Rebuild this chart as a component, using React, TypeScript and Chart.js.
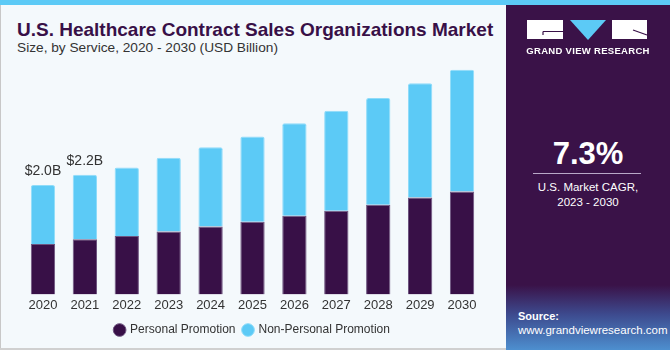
import React, { useEffect, useRef } from "react";
import { Chart, registerables } from "chart.js";

Chart.register(...registerables);

const years = ["2020", "2021", "2022", "2023", "2024", "2025", "2026", "2027", "2028", "2029", "2030"];
const personalPromotion = [0.92, 1.01, 1.07, 1.15, 1.24, 1.33, 1.44, 1.53, 1.64, 1.77, 1.88];
const nonPersonalPromotion = [1.08, 1.18, 1.25, 1.35, 1.45, 1.56, 1.69, 1.83, 1.95, 2.09, 2.23];
const totalLabels = ["$2.0B", "$2.2B", "", "", "", "", "", "", "", "", ""];

const DARK = "#381047";
const BLUE = "#5ccaf6";
const FONT = "'Liberation Sans', Arial, sans-serif";

const totalLabelPlugin = {
  id: "totalLabels",
  afterDatasetsDraw(chart: any) {
    const ctx = chart.ctx;
    const meta = chart.getDatasetMeta(1);
    ctx.save();
    ctx.font = `14px ${FONT}`;
    ctx.fillStyle = "#333333";
    ctx.textAlign = "center";
    ctx.textBaseline = "middle";
    meta.data.forEach((el: any, i: number) => {
      const t = totalLabels[i];
      if (t) ctx.fillText(t, el.x, el.y - 14);
    });
    ctx.restore();
  },
};

function ChartCanvas() {
  const ref = useRef<HTMLCanvasElement | null>(null);
  useEffect(() => {
    if (!ref.current) return;
    const chart = new Chart(ref.current, {
      type: "bar",
      data: {
        labels: years,
        datasets: [
          {
            label: "Personal Promotion",
            data: personalPromotion,
            backgroundColor: DARK,
            borderColor: "#6e5580",
            borderWidth: 1,
            barPercentage: 0.58,
            categoryPercentage: 1,
          },
          {
            label: "Non-Personal Promotion",
            data: nonPersonalPromotion,
            backgroundColor: BLUE,
            borderColor: "#8fdcf9",
            borderWidth: 1,
            borderRadius: { topLeft: 2, topRight: 2, bottomLeft: 0, bottomRight: 0 },
            borderSkipped: "bottom",
            barPercentage: 0.58,
            categoryPercentage: 1,
          },
        ],
      },
      options: {
        animation: false,
        responsive: false,
        maintainAspectRatio: false,
        layout: { padding: { left: 22, right: 22, top: 0, bottom: 4 } },
        scales: {
          x: {
            stacked: true,
            grid: { display: false, drawTicks: false },
            border: { display: false },
            ticks: { color: "#333333", font: { family: FONT, size: 13 }, padding: 3 },
          },
          y: {
            stacked: true,
            display: false,
            min: 0,
            max: 4.36,
          },
        },
        plugins: {
          legend: {
            position: "bottom",
            labels: {
              usePointStyle: true,
              pointStyle: "circle",
              boxWidth: 9,
              boxHeight: 9,
              color: "#333333",
              font: { family: FONT, size: 12 },
              padding: 8,
            },
          },
          tooltip: { enabled: false },
        },
      },
      plugins: [totalLabelPlugin],
    });
    return () => chart.destroy();
  }, []);
  return <canvas ref={ref} width={505} height={294} style={{ position: "absolute", left: 0, top: 56, width: 505, height: 294 }} />;
}

function Logo() {
  return (
    <svg width={170} height={60} style={{ position: "absolute", left: 500, top: 0 }}>
      <rect x={27} y={20} width={36} height={19} fill="#ffffff" />
      <path d="M43 31.5 L63 31.5 M43 31.5 L43 35" stroke={DARK} strokeWidth={1.2} fill="none" />
      <polygon points="70,20 106,20 88,40" fill={BLUE} />
      <rect x={112} y={20} width={35} height={19} fill="#ffffff" />
      <path d="M133 30 L147 35" stroke={DARK} strokeWidth={1.2} fill="none" />
    </svg>
  );
}

function Text(props: { x?: number; y: number; w?: number; h: number; style?: any; children: any }) {
  const { x = 0, y, w, h, style, children } = props;
  return (
    <div
      style={{
        position: "absolute",
        left: x,
        top: y - h / 2,
        width: w,
        height: h,
        lineHeight: `${h}px`,
        whiteSpace: "nowrap",
        ...style,
      }}
    >
      {children}
    </div>
  );
}

export default function App() {
  useEffect(() => {
    document.body.style.margin = "0";
  }, []);
  return (
    <div style={{ position: "absolute", left: 0, top: 0, width: 670, height: 350, overflow: "hidden", background: "#f4f9fc", fontFamily: FONT }}>
      <div style={{ position: "absolute", left: 0, top: 0, width: 670, height: 5, background: "#5ccaf6" }} />
      <div style={{ position: "absolute", left: 0, top: 5, width: 1, height: 345, background: "#c8c8c8" }} />
      <div style={{ position: "absolute", left: 0, top: 348, width: 506, height: 2, background: "#d0d0d0" }} />
      <Text x={17} y={30} h={22} style={{ color: DARK, fontSize: 19, fontWeight: "bold" }}>
        U.S. Healthcare Contract Sales Organizations Market
      </Text>
      <Text x={17} y={48} h={18} style={{ color: "#333333", fontSize: 13.7 }}>
        Size, by Service, 2020 - 2030 (USD Billion)
      </Text>
      <ChartCanvas />
      <div style={{ position: "absolute", left: 506, top: 5, width: 164, height: 345, background: "#3a1248" }} />
      <div
        style={{
          position: "absolute",
          left: 506,
          top: 285,
          width: 164,
          height: 65,
          background: "linear-gradient(to bottom, #3a1248 0%, #3d4a8e 45%, #4d8fcf 100%)",
        }}
      />
      <Logo />
      <Text x={506} w={164} y={51} h={12} style={{ color: "#ffffff", fontSize: 9.5, fontWeight: "bold", textAlign: "center", letterSpacing: 0.3 }}>
        GRAND VIEW RESEARCH
      </Text>
      <Text x={506} w={164} y={154} h={36} style={{ color: "#ffffff", fontSize: 31, fontWeight: "bold", textAlign: "center" }}>
        7.3%
      </Text>
      <div style={{ position: "absolute", left: 533, top: 173, width: 108, height: 1, background: "#b9a8c8" }} />
      <Text x={506} w={164} y={187} h={16} style={{ color: "#ffffff", fontSize: 11.5, textAlign: "center" }}>
        U.S. Market CAGR,
      </Text>
      <Text x={506} w={164} y={202} h={16} style={{ color: "#ffffff", fontSize: 11.5, textAlign: "center" }}>
        2023 - 2030
      </Text>
      <Text x={518} y={316} h={16} style={{ color: "#ffffff", fontSize: 11, fontWeight: "bold" }}>
        Source:
      </Text>
      <Text x={518} y={330} h={16} style={{ color: "#ffffff", fontSize: 11.5 }}>
        www.grandviewresearch.com
      </Text>
    </div>
  );
}
